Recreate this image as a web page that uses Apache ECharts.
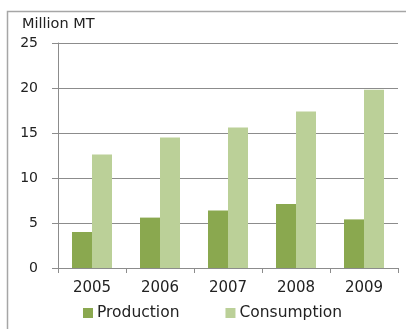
<!DOCTYPE html>
<html>
<head>
<meta charset="utf-8">
<script src="https://cdn.jsdelivr.net/npm/echarts@6/dist/echarts.min.js"></script>
<style>
  html, body { margin: 0; padding: 0; background: #fff; }
  #chart { width: 406px; height: 329px; }
</style>
</head>
<body>
<div id="chart"></div>
<script>
// Years on the category axis
const years = ['2005', '2006', '2007', '2008', '2009'];
// Output and demand, million metric tonnes
const production = [4.0, 5.6, 6.4, 7.1, 5.4];
const consumption = [12.6, 14.5, 15.6, 17.4, 19.8];
// Value axis labels
const yTicks = [0, 5, 10, 15, 20, 25];

const FONT = 'DejaVu Sans';
const chart = echarts.init(document.getElementById('chart'), null, { renderer: 'canvas' });

chart.setOption({
  animation: false,
  backgroundColor: '#ffffff',
  textStyle: { fontFamily: FONT },
  graphic: [
    {
      type: 'rect',
      shape: { x: 7.5, y: 11.5, width: 420, height: 340 },
      style: { fill: 'none', stroke: '#a6a6a6', lineWidth: 1.5 },
      silent: true
    },
    {
      type: 'text',
      left: 22, top: 17,
      style: { text: 'Million MT', font: '14.5px "DejaVu Sans"', fill: '#222' }
    }
  ],
  grid: { left: 58, right: 8, top: 43, bottom: 61, containLabel: false },
  legend: {
    left: 78, top: 300,
    itemWidth: 10, itemHeight: 10, itemGap: 46,
    icon: 'rect',
    textStyle: { fontFamily: FONT, fontSize: 15.5, color: '#222', padding: [0, 0, 0, -1] },
    data: ['Production', 'Consumption']
  },
  xAxis: {
    type: 'category',
    data: years,
    axisLine: { lineStyle: { color: '#8c8c8c', width: 1 } },
    axisTick: { show: true, length: 5, lineStyle: { color: '#8c8c8c' } },
    axisLabel: { fontFamily: FONT, fontSize: 15, color: '#222', margin: 13 }
  },
  yAxis: {
    type: 'value',
    min: 0, max: 25, interval: 5,
    axisLine: { show: true, lineStyle: { color: '#8c8c8c', width: 1 } },
    axisTick: { show: true, length: 6, lineStyle: { color: '#8c8c8c' } },
    splitLine: { show: true, lineStyle: { color: '#8c8c8c', width: 1 } },
    axisLabel: {
      fontFamily: FONT, fontSize: 14, color: '#222', margin: 20,
      formatter: v => (yTicks.indexOf(v) >= 0 ? String(v) : '')
    }
  },
  series: [
    {
      name: 'Production', type: 'bar', data: production,
      barWidth: 20, barGap: '0%',
      itemStyle: { color: '#8aa84f' }
    },
    {
      name: 'Consumption', type: 'bar', data: consumption,
      barWidth: 20,
      itemStyle: { color: '#bbd098' }
    }
  ]
});
</script>
</body>
</html>
